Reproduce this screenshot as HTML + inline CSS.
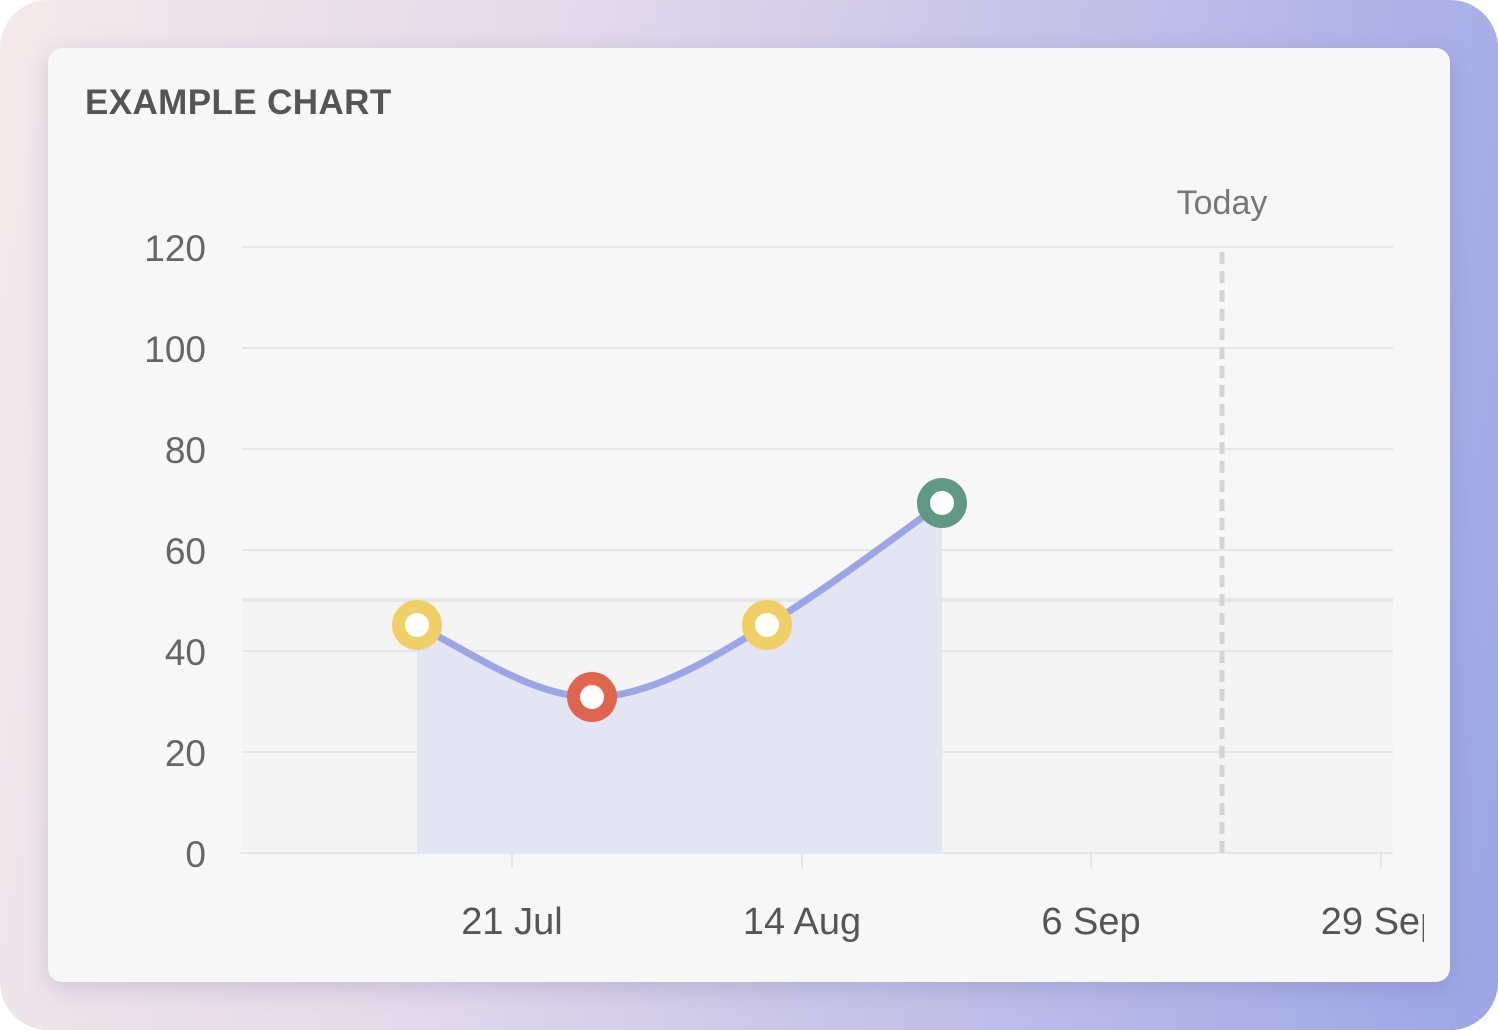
<!DOCTYPE html>
<html><head><meta charset="utf-8"><style>
html,body{margin:0;padding:0;background:#fff;}
.outer{position:absolute;left:0;top:0;width:1498px;height:1030px;border-radius:48px;
background:linear-gradient(100deg,#f6e9eb 0%,#e3d9ea 35%,#c3c1e8 65%,#9ca5e6 100%);overflow:hidden;}
.card{position:absolute;left:48px;top:48px;width:1402px;height:934px;border-radius:14px;background:#f7f7f7;
box-shadow:0 6px 24px rgba(60,60,120,0.18);}
svg{position:absolute;left:0;top:0;}
text{font-family:"Liberation Sans",sans-serif;}
</style></head><body>
<div class="outer"><div class="card"></div>
<svg width="1498" height="1030" viewBox="0 0 1498 1030">
<text x="85" y="114" font-size="35" font-weight="bold" fill="#555" letter-spacing="0.4">EXAMPLE CHART</text>
<rect x="242" y="600" width="1151" height="253" fill="#f4f4f4"/>
<g stroke="#e6e6e6" stroke-width="2">
<line x1="242" y1="247" x2="1393" y2="247"/>
<line x1="242" y1="348" x2="1393" y2="348"/>
<line x1="242" y1="449" x2="1393" y2="449"/>
<line x1="242" y1="550" x2="1393" y2="550"/>
<line x1="242" y1="651" x2="1393" y2="651"/>
<line x1="242" y1="752" x2="1393" y2="752"/>
<line x1="240" y1="853" x2="1393" y2="853"/>
<line x1="512" y1="853" x2="512" y2="868"/>
<line x1="802" y1="853" x2="802" y2="868"/>
<line x1="1091" y1="853" x2="1091" y2="868"/>
<line x1="1381" y1="853" x2="1381" y2="868"/>
</g>
<line x1="242" y1="600" x2="1393" y2="600" stroke="#e6e6e6" stroke-width="4"/>
<g font-size="37" fill="#666" text-anchor="end">
<text x="206" y="261">120</text><text x="206" y="362">100</text><text x="206" y="463">80</text>
<text x="206" y="564">60</text><text x="206" y="665">40</text><text x="206" y="766">20</text><text x="206" y="867">0</text>
</g>
<line x1="1222" y1="252" x2="1222" y2="853" stroke="#d4d4d4" stroke-width="5" stroke-dasharray="12,7"/>
<text x="1222" y="214" font-size="34" fill="#777" text-anchor="middle">Today</text>
<path d="M417,625 C475,655 534,697 592,697 C650,697 709,660 767,625 C825,590 884,545 942,503 L942,853 L417,853 Z" fill="#e3e5f2"/>
<path d="M417,625 C475,655 534,697 592,697 C650,697 709,660 767,625 C825,590 884,545 942,503" fill="none" stroke="#9ca6e6" stroke-width="7"/>
<g>
<circle cx="417" cy="625" r="25" fill="#f1cf67"/><circle cx="417" cy="625" r="12" fill="#fff"/>
<circle cx="592" cy="697" r="25" fill="#e0654f"/><circle cx="592" cy="697" r="12" fill="#fff"/>
<circle cx="767" cy="625" r="25" fill="#f1cf67"/><circle cx="767" cy="625" r="12" fill="#fff"/>
<circle cx="942" cy="503" r="25" fill="#5f9884"/><circle cx="942" cy="503" r="12" fill="#fff"/>
</g>
<defs><clipPath id="c"><rect x="0" y="0" width="1424" height="1030"/></clipPath></defs>
<g font-size="38" fill="#555" text-anchor="middle" clip-path="url(#c)">
<text x="512" y="934">21 Jul</text><text x="802" y="934">14 Aug</text>
<text x="1091" y="934">6 Sep</text><text x="1381" y="934">29 Sep</text>
</g>
</svg></div>
</body></html>
